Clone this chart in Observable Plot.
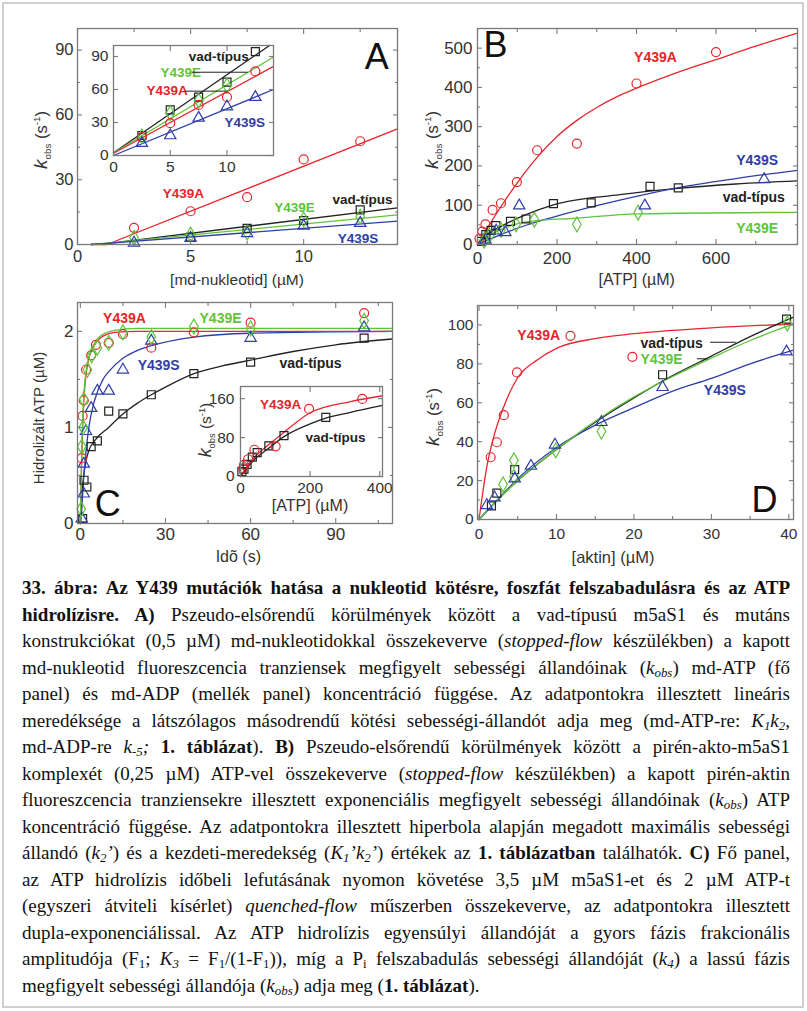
<!DOCTYPE html>
<html><head><meta charset="utf-8">
<script src="https://cdn.jsdelivr.net/npm/d3@7"></script>
<script src="https://cdn.jsdelivr.net/npm/@observablehq/plot@0.6"></script>
<style>
html,body{margin:0;padding:0;background:#fff;}
#fig{position:relative;width:807px;height:1011px;overflow:hidden;background:#fff;font-family:"Liberation Sans",Arial,sans-serif;}
#border{position:absolute;left:2px;top:2px;width:802px;height:1006px;border:2px solid #cfcfcf;box-sizing:border-box;}
.svgp{position:absolute;overflow:visible;}
.lab{position:absolute;white-space:nowrap;color:#333;font-family:"Liberation Sans",Arial,sans-serif;transform:translate(-50%,-50%);line-height:1;}
.rot{transform:translate(-50%,-50%) rotate(-90deg);}
.lab sub,.lab sup{font-size:0.6em;line-height:0;}
#caption{position:absolute;left:22px;top:575px;width:768px;font-family:"Liberation Serif","Times New Roman",serif;color:#111;}
.cl{height:26.5px;line-height:26.5px;white-space:nowrap;}
.cl sub{font-size:0.68em;line-height:0;vertical-align:-0.25em;}
</style></head><body><div id="fig"><div id="border"></div><div id="caption"></div></div>
<script>
const RED="#e5262d", GREEN="#5fc43b", BLUE="#2f3ea6", BLACK="#222", FRAME="#7a7a7a";

// ---------- Panel A (md-ATP, main) ----------
const aRed   = [[2.5,7.7],[5,15.4],[7.5,21.9],[10,39.4],[12.5,47.8]];
const aBlack = [[5,3.4],[7.5,7.5],[10,11.1],[12.5,16]];
const aGreen = [[2.5,3.1],[5,4.6],[7.5,5.5],[10,11.6],[12.5,12.9]];
const aBlue  = [[2.5,0.8],[5,3],[7.5,5.2],[10,8.6],[12.5,9.9]];
const aFitRed   = [[0.6,0],[1.3,0],[14.15,53.5]];
const aFitBlack = [[0.6,0],[1.3,0.4],[14.15,17]];
const aFitGreen = [[0.6,0],[1.3,0.6],[14.15,13.7]];
const aFitBlue  = [[0.6,0],[1.3,0.5],[14.15,10.8]];
// Panel A inset (md-ADP)
const aiBlack = [[2.5,18.2],[5,41.5],[7.5,53],[10,66.7],[12.5,94.5]];
const aiGreen = [[2.5,17.3],[5,38.5],[7.5,50],[10,63.6]];
const aiRed   = [[2.5,16.7],[5,29.4],[7.5,46],[10,53],[12.5,76.4]];
const aiBlue  = [[2.5,11.2],[5,18.2],[7.5,34.2],[10,44.5],[12.5,53]];
const aiFitBlack = [[0,2.5],[13.75,100]];
const aiFitGreen = [[0,2.5],[14.1,89.5]];
const aiFitRed   = [[0,2],[14.1,81]];
const aiFitBlue  = [[0,0],[14.1,60]];

// ---------- Panel B ----------
const bRed   = [[5,15],[12,33],[20,51],[38,88],[59,105],[99,159],[150,240],[250,257],[400,410],[600,490]];
const bBlack = [[10,8],[21,25],[34,36],[46,48],[83,59],[122,65],[191,104],[286,106],[434,148],[505,144]];
const bGreen = [[17,10],[30,23],[59,37],[97,51],[143,63],[250,51],[404,81]];
const bBlue  = [[20,12],[47,35],[70,31],[105,99],[421,99],[721,166]];
const bFitRed   = [[0,0],[20,34],[60,98],[100,157],[150,222],[200,275],[250,316],[300,349],[350,376],[400,398],[500,437],[600,471],[700,505],[805,538]];
const bFitBlack = [[0,0],[21,23],[63,48],[122,76],[191,101],[358,127],[505,143],[650,154],[805,162]];
const bFitBlue  = [[0,0],[63,27],[122,49],[191,70],[358,113],[505,145],[650,168],[805,189]];
const bFitGreen = [[0,0],[30,23],[63,40],[105,54],[148,61],[231,66],[404,78],[805,82]];

// ---------- Panel C ----------
const cRed   = [[0.5,0.68],[0.8,1.12],[1.2,1.28],[2,1.6],[3.8,1.75],[5.5,1.86],[10,1.88],[15,1.97],[25,1.83],[40,1.99],[60,2.09],[100,2.19]];
const cGreen = [[0.3,0.15],[0.5,0.8],[1,1.0],[1.2,1.29],[2.5,1.6],[4,1.75],[6,1.83],[10,1.88],[15,1.99],[25,1.94],[40,2.05],[60,2.03],[100,2.11]];
const cBlue  = [[0.5,0.05],[1.2,0.31],[1.2,0.62],[2,0.96],[3.8,1.2],[6,1.38],[10,1.38],[15,1.6],[25,1.9],[60,1.93],[100,2.04]];
const cBlack = [[0.8,0.05],[1.3,0.45],[2.3,0.38],[3.8,0.8],[6,0.86],[10,1.17],[15,1.14],[25,1.34],[40,1.56],[60,1.68],[100,1.93]];
const cFitRed   = [[0,0],[0.5,0.7],[1,1.15],[1.5,1.4],[2,1.55],[3,1.72],[4,1.8],[6,1.9],[8,1.95],[12,1.99],[20,2.0],[110,2.0]];
const cFitGreen = [[0,0],[0.5,0.8],[1,1.2],[1.5,1.45],[2,1.58],[3,1.73],[4,1.82],[6,1.92],[8,1.97],[12,2.01],[20,2.03],[110,2.03]];
const cFitBlue  = [[0,0],[0.5,0.15],[1,0.4],[2,0.75],[3,1.0],[5,1.28],[8,1.5],[10,1.58],[15,1.72],[20,1.8],[25,1.85],[40,1.94],[60,1.98],[110,2.0]];
const cFitBlack = [[0,0],[0.5,0.25],[1,0.45],[2,0.65],[3,0.76],[5,0.86],[10,1.0],[15,1.14],[20,1.25],[25,1.34],[30,1.42],[40,1.56],[50,1.64],[60,1.7],[75,1.79],[90,1.86],[110,1.92]];
// Panel C inset
const ciRed   = [[8,17],[10,24],[22,35.5],[40,55],[101,62],[197,139],[350,159.5]];
const ciBlack = [[4,10],[10,15],[19,25],[34,40],[48,49],[81.5,63],[125,84],[245,121.5]];
const ciFitRed   = [[0,0],[20,22],[40,39],[77,63],[120,88],[200,131],[316,154],[408,166]];
const ciFitBlack = [[0,0],[20,18],[40,35],[77,56],[125,82],[200,108],[245,120],[316,132],[408,146]];

// ---------- Panel D ----------
const dRed   = [[1.5,32],[2.3,39.7],[3.2,53.6],[4.9,75.6],[11.8,94.4],[19.8,83.6]];
const dBlack = [[1.6,7],[2.3,13.6],[4.6,25.6],[23.7,74.4],[39.7,103]];
const dGreen = [[3.1,18],[4.5,30.4],[4.5,22],[9.9,35.5],[15.8,45.2],[39.8,100.7]];
const dBlue  = [[1,7.3],[2,11.3],[4.6,21],[6.7,27.5],[9.8,38.4],[15.8,50],[23.7,68],[39.7,86.3]];
const dFitRed   = [[0,0],[1,27],[2,44],[3,56],[5,73],[7.5,82],[10,88],[15,93],[20,95.5],[30,98.5],[40.6,100.5]];
const dFitBlack = [[0,0],[2,8.5],[5,20],[10,36],[15,50],[20,62.5],[25,74],[30,84],[35,94],[40.6,104]];
const dFitGreen = [[0,0],[2,8.5],[5,20],[10,36],[15,50.5],[20,63],[25,73.5],[30,83],[35,92],[40.6,100.5]];
const dFitBlue  = [[0,0],[2,8.5],[5,21],[10,37],[15,48.5],[20,57.5],[25,66],[30,72.5],[35,80],[40.6,87]];

// ---------- tick values ----------
const aXt=[0,5,10], aXm=[2.5,7.5,12.5], aYt=[0,30,60,90], aYm=[15,45,75];
const aiXt=[0,5,10], aiYt=[0,30,60,90];
const bXt=[0,200,400,600], bXm=[100,300,500,700], bYt=[0,100,200,300,400,500], bYm=[50,150,250,350,450];
const cXt=[0,30,60,90], cXm=[15,45,75,105], cYt=[0,1,2], cYm=[0.5,1.5];
const ciXt=[0,200,400], ciYt=[0,80,160];
const dXt=[0,10,20,30,40], dXm=[5,15,25,35], dYt=[0,20,40,60,80,100], dYm=[10,30,50,70,90];

// ---------- annotations ----------
const aLabels = [{x:4.68,y:23.75,t:"Y439A",c:RED,a:"middle"},{x:12.6,y:20.8,t:"vad-típus",c:BLACK,a:"middle"},{x:9.6,y:17,t:"Y439E",c:GREEN,a:"middle"},{x:12.4,y:2.6,t:"Y439S",c:BLUE,a:"middle"}];
const aiLabels = [{x:11.92,y:90,t:"vad-típus",c:BLACK,a:"end"},{x:4.14,y:75.7,t:"Y439E",c:GREEN,a:"start"},{x:2.9,y:58.5,t:"Y439A",c:RED,a:"start"},{x:9.78,y:29.4,t:"Y439S",c:BLUE,a:"start"}];
const aiLeaders = [[[6.93,75.7],[11.78,75.7]],[[6.34,58.5],[10.02,58.5]]];
const bLabels = [{x:447.8,y:476,t:"Y439A",c:RED,a:"middle"},{x:703.6,y:213.9,t:"Y439S",c:BLUE,a:"middle"},{x:695,y:120.4,t:"vad-típus",c:BLACK,a:"middle"},{x:703.6,y:40,t:"Y439E",c:GREEN,a:"middle"}];
const cLabels = [{x:15.56,y:2.13,t:"Y439A",c:RED,a:"middle"},{x:49.4,y:2.13,t:"Y439E",c:GREEN,a:"middle"},{x:27.6,y:1.644,t:"Y439S",c:BLUE,a:"middle"},{x:81.1,y:1.662,t:"vad-típus",c:BLACK,a:"middle"}];
const ciLabels = [{x:115,y:148,t:"Y439A",c:RED,a:"middle"},{x:273,y:79.5,t:"vad-típus",c:BLACK,a:"middle"}];
const dLabels = [{x:7.71,y:94.6,t:"Y439A",c:RED,a:"middle"},{x:20.85,y:90.6,t:"vad-típus",c:BLACK,a:"start"},{x:20.85,y:82.1,t:"Y439E",c:GREEN,a:"start"},{x:29.02,y:66.3,t:"Y439S",c:BLUE,a:"start"}];
const dLeaders = [[[29.88,91.1],[33.1,91.1]],[[28.17,82.6],[29.46,82.6]]];
const letters = {A:{x:13.23,y:86.7}, B:{x:45.3,y:506.7}, C:{x:9.68,y:0.198}, D:{x:36.86,y:9.77}};

// ---------- helpers ----------
const fig = document.getElementById("fig");
const px = d => d[0], py = d => d[1];
const fmt = d => String(d);
function place(svg,left,top){svg.classList.add("svgp");svg.style.left=left+"px";svg.style.top=top+"px";fig.appendChild(svg);}
function axes({xt,yt,xm=[],ym=[],fs,xpad,ypad}){
  const m=[
    Plot.axisX({ticks:xt,anchor:"bottom",tickSize:0,tickPadding:xpad,label:null,fill:"#333",fontSize:fs,tickFormat:fmt}),
    Plot.axisY({ticks:yt,anchor:"left",tickSize:0,tickPadding:ypad,label:null,fill:"#333",fontSize:fs,tickFormat:fmt})
  ];
  const tk=(t,len)=>[
    Plot.axisX({ticks:t[0],anchor:"bottom",tickSize:len,dy:-len,fill:"none",label:null,stroke:FRAME,strokeWidth:1.1}),
    Plot.axisX({ticks:t[0],anchor:"top",tickSize:len,dy:len,fill:"none",label:null,stroke:FRAME,strokeWidth:1.1}),
    Plot.axisY({ticks:t[1],anchor:"left",tickSize:len,dx:len,fill:"none",label:null,stroke:FRAME,strokeWidth:1.1}),
    Plot.axisY({ticks:t[1],anchor:"right",tickSize:len,dx:-len,fill:"none",label:null,stroke:FRAME,strokeWidth:1.1})
  ];
  m.push(...tk([xt,yt],5));
  if(xm.length||ym.length) m.push(...tk([xm,ym],3));
  return m;
}
const dots=(pts,symbol,color,r=4.5)=>Plot.dot(pts,{x:px,y:py,symbol,stroke:color,fill:"none",r,strokeWidth:1.2});
const fit=(pts,color,curve="monotone-x")=>Plot.line(pts,{x:px,y:py,stroke:color,strokeWidth:1.3,curve});
const labs=(arr,fs=13.5)=>arr.map(a=>Plot.text([a],{x:"x",y:"y",text:"t",fill:a.c,textAnchor:a.a,fontWeight:"bold",fontSize:fs}));
const leaders=arr=>arr.map(s=>Plot.line(s,{x:px,y:py,stroke:"#222",strokeWidth:1}));
const letter=(k)=>Plot.text([letters[k]],{x:"x",y:"y",text:()=>k,fill:"#111",fontSize:36});
function panel(o){
  return Plot.plot({
    width:o.w,height:o.h,marginLeft:o.m[0],marginRight:o.m[1],marginTop:o.m[2],marginBottom:o.m[3],
    x:{domain:o.xd},y:{domain:o.yd},
    style:{fontFamily:"'Liberation Sans',Arial,sans-serif",color:"#333",background:"transparent",overflow:"visible"},
    marks:[
      ...(o.bg?[Plot.frame({fill:"white",stroke:"none"})]:[]),
      ...o.marks,
      Plot.frame({stroke:FRAME,strokeWidth:1.3}),
      ...axes(o.ax)
    ]
  });
}

// ---------- Panel A ----------
place(panel({w:400,h:290,m:[77,3,28,46],xd:[0,14.15],yd:[0,100],
  ax:{xt:aXt,yt:aYt,xm:aXm,ym:aYm,fs:16.5,xpad:6,ypad:4},
  marks:[fit(aFitRed,RED,"linear"),fit(aFitBlack,BLACK,"linear"),fit(aFitGreen,GREEN,"linear"),fit(aFitBlue,BLUE,"linear"),
    dots(aRed,"circle",RED),dots(aBlack,"square",BLACK),dots(aGreen,"diamond",GREEN),dots(aBlue,"triangle",BLUE,4.2),
    ...labs(aLabels),letter("A")]}),0,0);
// ---------- Panel B ----------
place(panel({w:407,h:290,m:[77,10,28,46],xd:[0,805],yd:[0,550],
  ax:{xt:bXt,yt:bYt,xm:bXm,ym:bYm,fs:17,xpad:7,ypad:5},
  marks:[fit(bFitRed,RED),fit(bFitBlack,BLACK),fit(bFitBlue,BLUE),fit(bFitGreen,GREEN),
    dots(bRed,"circle",RED),dots(bBlack,"square",BLACK),dots(bGreen,"diamond",GREEN),dots(bBlue,"triangle",BLUE,4.2),
    ...labs(bLabels,14),letter("B")]}),400,0);
// ---------- Panel C ----------
place(panel({w:400,h:295,m:[77,8,12,62],xd:[-1,110],yd:[0,2.3],
  ax:{xt:cXt,yt:cYt,xm:cXm,ym:cYm,fs:17,xpad:4,ypad:4},
  marks:[fit(cFitBlack,BLACK),fit(cFitBlue,BLUE),fit(cFitRed,RED),fit(cFitGreen,GREEN),
    dots(cBlack,"square",BLACK),dots(cBlue,"triangle",BLUE,4.2),dots(cRed,"circle",RED),dots(cGreen,"diamond",GREEN),
    ...labs(cLabels,14),letter("C")]}),0,290);
// ---------- Panel D ----------
place(panel({w:407,h:295,m:[77,14,15,66],xd:[-0.2,40.6],yd:[0,110],
  ax:{xt:dXt,yt:dYt,xm:dXm,ym:dYm,fs:15.5,xpad:8,ypad:4},
  marks:[fit(dFitRed,RED),fit(dFitBlack,BLACK),fit(dFitBlue,BLUE),fit(dFitGreen,GREEN),
    dots(dRed,"circle",RED),dots(dBlack,"square",BLACK),dots(dGreen,"diamond",GREEN),dots(dBlue,"triangle",BLUE,4.2),
    ...labs(dLabels,14),...leaders(dLeaders),letter("D")]}),400,290);
// ---------- Inset A ----------
place(panel({w:200,h:140,m:[33,7,5,25],xd:[0,14.1],yd:[0,100],bg:true,
  ax:{xt:aiXt,yt:aiYt,fs:15.5,xpad:5,ypad:5},
  marks:[fit(aiFitBlack,BLACK,"linear"),fit(aiFitGreen,GREEN,"linear"),fit(aiFitRed,RED,"linear"),fit(aiFitBlue,BLUE,"linear"),
    dots(aiBlack,"square",BLACK),dots(aiGreen,"diamond",GREEN),dots(aiRed,"circle",RED),dots(aiBlue,"triangle",BLUE,4.2),
    ...labs(aiLabels),...leaders(aiLeaders)]}),80,40);
// ---------- Inset C ----------
place(panel({w:190,h:135,m:[45,3,6,39],xd:[0,408],yd:[0,185],bg:true,
  ax:{xt:ciXt,yt:ciYt,fs:15.5,xpad:5,ypad:6},
  marks:[fit(ciFitBlack,BLACK),fit(ciFitRed,RED),
    dots(ciBlack,"square",BLACK),dots(ciRed,"circle",RED),
    ...labs(ciLabels,13.5)]}),195,380);

// ---------- axis titles ----------
function lab(html,x,y,fs,rot){const d=document.createElement("div");d.className="lab"+(rot?" rot":"");d.innerHTML=html;d.style.left=x+"px";d.style.top=y+"px";d.style.fontSize=fs+"px";fig.appendChild(d);}
const kobs='<i style="font-size:1.15em">k</i><sub>obs</sub> (s<sup>-1</sup>)';
lab("[md-nukleotid] (µM)",237,280,15.5);
lab("[ATP] (µM)",636.7,280,16);
lab("Idõ (s)",238.3,556.7,16);
lab("[aktin] (µM)",613,556.7,16.5);
lab("[ATP] (µM)",310,506,16);
lab(kobs,41,140,16.5,true);
lab(kobs,431.7,140,16.5,true);
lab(kobs,433.3,416.7,16.5,true);
lab(kobs,206,430,15.5,true);
lab("Hidrolizált ATP (µM)",38.3,418.3,15,true);

// ---------- caption ----------
const captionLines = [
 '<b>33. ábra: Az Y439 mutációk hatása a nukleotid kötésre, foszfát felszabadulásra és az ATP</b>',
 '<b>hidrolízisre. A)</b> Pszeudo-elsőrendű körülmények között a vad-típusú m5aS1 és mutáns',
 'konstrukciókat (0,5 µM) md-nukleotidokkal összekeverve (<i>stopped-flow</i> készülékben) a kapott',
 'md-nukleotid fluoreszcencia tranziensek megfigyelt sebességi állandóinak (<i>k<sub>obs</sub></i>) md-ATP (fő',
 'panel) és md-ADP (mellék panel) koncentráció függése. Az adatpontokra illesztett lineáris',
 'meredéksége a látszólagos másodrendű kötési sebességi-állandót adja meg (md-ATP-re: <i>K<sub>1</sub>k<sub>2</sub></i>,',
 'md-ADP-re <i>k<sub>-5</sub>;</i> <b>1. táblázat</b>). <b>B)</b> Pszeudo-elsőrendű körülmények között a pirén-akto-m5aS1',
 'komplexét (0,25 µM) ATP-vel összekeverve (<i>stopped-flow</i> készülékben) a kapott pirén-aktin',
 'fluoreszcencia tranziensekre illesztett exponenciális megfigyelt sebességi állandóinak (<i>k<sub>obs</sub></i>) ATP',
 'koncentráció függése. Az adatpontokra illesztett hiperbola alapján megadott maximális sebességi',
 'állandó (<i>k<sub>2</sub>’</i>) és a kezdeti-meredekség (<i>K<sub>1</sub>’k<sub>2</sub>’</i>) értékek az <b>1. táblázatban</b> találhatók. <b>C)</b> Fő panel,',
 'az ATP hidrolízis időbeli lefutásának nyomon követése 3,5 µM m5aS1-et és 2 µM ATP-t',
 '(egyszeri átviteli kísérlet) <i>quenched-flow</i> műszerben összekeverve, az adatpontokra illesztett',
 'dupla-exponenciálissal. Az ATP hidrolízis egyensúlyi állandóját a gyors fázis frakcionális',
 'amplitudója (F<sub>1</sub>; <i>K<sub>3</sub></i> = F<sub>1</sub>/(1-F<sub>1</sub>)), míg a P<sub>i</sub> felszabadulás sebességi állandóját (<i>k<sub>4</sub></i>) a lassú fázis',
 'megfigyelt sebességi állandója (<i>k<sub>obs</sub></i>) adja meg (<b>1. táblázat</b>).'
];
const cap=document.getElementById("caption");
captionLines.forEach(h=>{const d=document.createElement("div");d.className="cl";d.innerHTML="<span>"+h+"</span>";cap.appendChild(d);});
let cfs=17; cap.style.fontSize=cfs+"px";
const lw=cap.lastChild.firstChild.getBoundingClientRect().width;
cfs=Math.max(15,Math.min(19,cfs*473/lw)); cap.style.fontSize=cfs+"px";
[...cap.children].forEach((d,i)=>{ if(i===captionLines.length-1) return; const s=d.firstChild; const nat=s.getBoundingClientRect().width; const n=(s.textContent.match(/ /g)||[]).length; if(n) s.style.wordSpacing=((768-nat)/n)+"px"; });
</script></body></html>
